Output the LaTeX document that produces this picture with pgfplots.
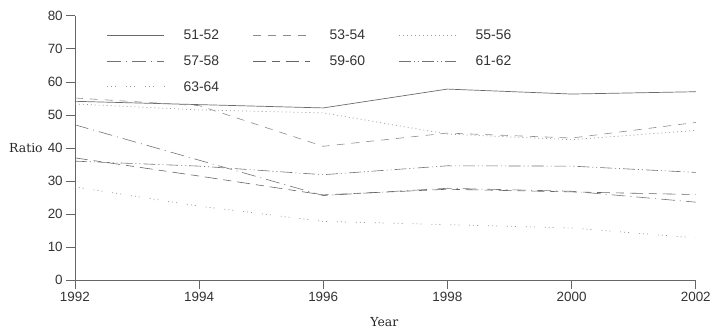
\documentclass[border=0pt]{standalone}
\usepackage{fontspec}
\setmainfont{Liberation Sans}
\newfontfamily\seriffont{DejaVu Serif}
\usepackage{pgfplots}
\pgfplotsset{compat=1.18}
\begin{document}
\begin{tikzpicture}
\begin{axis}[
  width=622bp, height=265bp, scale only axis,
  xmin=1992, xmax=2002, ymin=0, ymax=80,
  axis lines*=left, axis line style={-, black!60, line width=0.6pt},
  xtick={1992,1994,...,2002}, ytick={0,10,...,80},
  tick align=outside, tick style={black!60, line width=0.6pt}, major tick length=9bp,
  /pgf/number format/assume math mode=true,
  /pgf/number format/1000 sep={},
  tick label style={font=\fontsize{13.5}{15}\selectfont, text=black!80},
  yticklabel style={inner xsep=3bp},
  xticklabel style={inner ysep=3bp},
  xlabel={\seriffont Year}, ylabel={\seriffont Ratio},
  label style={font=\fontsize{12.5}{14}\selectfont, text=black!85},
  xlabel style={at={(axis description cs:0.5,0)}, anchor=center, yshift=-42bp, xshift=-1bp},
  ylabel style={rotate=-90, at={(axis description cs:0,0.5)}, anchor=east, xshift=-32bp, inner sep=0pt},
  legend columns=3,
  legend style={draw=none, fill=none, at={(axis description cs:0.0514,0.947)}, anchor=north west,
    inner sep=0pt, font=\fontsize{14}{16}\selectfont, text=black!80, row sep=16bp,
    nodes={inner sep=0pt, text height=10bp, text depth=0pt}},
  legend image code/.code={\draw[#1] (0bp,0bp) -- (57bp,0bp);},
  /tikz/every odd column/.append style={column sep=19bp},
  /tikz/every even column/.append style={column sep=34bp},
  legend cell align=left,
]
\addplot[black!58, line width=0.7pt] coordinates {(1992,54.1)(1994,53.1)(1996,52.1)(1998,57.8)(2000,56.3)(2002,57.0)};
\addlegendentry{51-52}
\addplot[black!45, line width=0.6pt, dash pattern=on 8pt off 7pt] coordinates {(1992,55.1)(1994,52.8)(1996,40.5)(1998,44.5)(2000,43.0)(2002,47.7)};
\addlegendentry{53-54}
\addplot[black!40, line width=0.7pt, dash pattern=on 1pt off 3pt] coordinates {(1992,53.3)(1994,51.5)(1996,50.6)(1998,44.2)(2000,42.5)(2002,45.3)};
\addlegendentry{55-56}
\addplot[black!55, line width=0.6pt, dash pattern=on 14pt off 5pt on 1pt off 5pt] coordinates {(1992,47.0)(1994,36.3)(1996,25.6)(1998,27.8)(2000,26.9)(2002,23.6)};
\addlegendentry{57-58}
\addplot[black!60, line width=0.6pt, dash pattern=on 13pt off 6pt on 8pt off 6pt] coordinates {(1992,37.0)(1994,31.5)(1996,25.8)(1998,27.5)(2000,26.7)(2002,25.9)};
\addlegendentry{59-60}
\addplot[black!55, line width=0.6pt, dash pattern=on 12pt off 3pt on 1pt off 3pt on 1pt off 3pt] coordinates {(1992,36.0)(1994,34.5)(1996,31.9)(1998,34.6)(2000,34.5)(2002,32.6)};
\addlegendentry{61-62}
\addplot[black!40, line width=0.7pt, dash pattern=on 1pt off 3pt on 1pt off 3pt on 1pt off 10pt] coordinates {(1992,28.2)(1994,22.4)(1996,17.8)(1998,16.8)(2000,15.8)(2002,12.8)};
\addlegendentry{63-64}
\end{axis}
\path ([xshift=-75bp,yshift=-50.3bp]current axis.south west);
\path ([xshift=17bp,yshift=15.7bp]current axis.north east);
\end{tikzpicture}
\end{document}
